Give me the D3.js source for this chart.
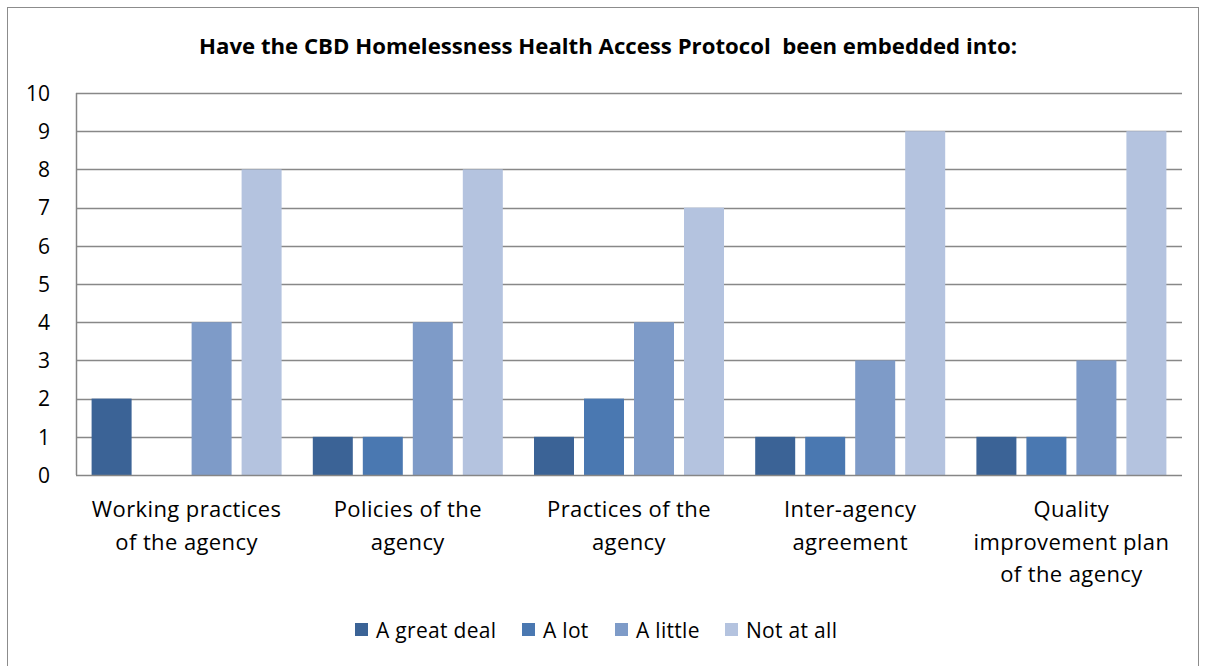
<!DOCTYPE html>
<html><head><meta charset="utf-8">
<script src="https://cdn.jsdelivr.net/npm/d3@7"></script>
<style>
body{margin:0;background:#fff;}
text{font-family:"Open Sans",sans-serif;fill:#000;}
</style></head>
<body><svg id="c" width="1206" height="666"></svg>
<script>
const title = "Have the CBD Homelessness Health Access Protocol  been embedded into:";
const categories = [["Working practices","of the agency"],["Policies of the","agency"],["Practices of the","agency"],["Inter-agency","agreement"],["Quality","improvement plan","of the agency"]];
const seriesNames = ["A great deal","A lot","A little","Not at all"];
const greatDeal = [2,1,1,1,1];
const aLot = [0,1,2,1,1];
const aLittle = [4,4,4,3,3];
const notAtAll = [8,8,7,9,9];
const yTicks = [0,1,2,3,4,5,6,7,8,9,10];
const colors = ["#3B6396","#4A78B1","#7E9BC8","#B4C3DF"];

const series = [greatDeal,aLot,aLittle,notAtAll];
const svg = d3.select("#c");
svg.append("rect").attr("x",7.5).attr("y",7.5).attr("width",1191).attr("height",670)
  .attr("fill","none").attr("stroke","#8c8c8c").attr("stroke-width",1);

const L=76,R=1182,T=93,B=475;
const x0 = d3.scaleBand().domain(d3.range(categories.length)).range([L,R]);
const gw = x0.bandwidth();
const x1 = d3.scaleBand().domain(d3.range(4)).range([15.6, gw-15.6]).paddingInner(0.2);
const y = d3.scaleLinear().domain([0,10]).range([B,T]);

svg.append("text").attr("x",608).attr("y",54).attr("text-anchor","middle")
  .style("font-weight","bold").style("font-size","21px").style("white-space","pre").text(title)
  .attr("textLength",818).attr("lengthAdjust","spacingAndGlyphs");

// grid
svg.append("g").selectAll("line").data(yTicks.filter(d=>d>0)).join("line")
  .attr("x1",L).attr("x2",R).attr("y1",d=>Math.round(y(d))+0.5).attr("y2",d=>Math.round(y(d))+0.5)
  .attr("stroke","#888").attr("stroke-width",1.3);

const yAxis = d3.axisLeft(y).tickValues(yTicks).tickSize(0).tickPadding(0);
const ga = svg.append("g").attr("transform",`translate(50,0)`).call(yAxis);
ga.select(".domain").remove();
ga.selectAll("text").style("font-size","21px").style("font-family","'Open Sans',sans-serif").attr("fill","#000").attr("dy","0.35em");

// bars
const g = svg.append("g");
categories.forEach((c,i)=>{
  series.forEach((s,j)=>{
    if(s[i]>0) g.append("rect").attr("x",x0(i)+x1(j)).attr("width",x1.bandwidth())
      .attr("y",y(s[i])).attr("height",y(0)-y(s[i])).attr("fill",colors[j]);
  });
});

// axis lines
svg.append("line").attr("x1",L+0.5).attr("x2",L+0.5).attr("y1",T).attr("y2",B).attr("stroke","#868686").attr("stroke-width",1.5);
svg.append("line").attr("x1",L).attr("x2",R).attr("y1",B+0.5).attr("y2",B+0.5).attr("stroke","#868686").attr("stroke-width",1.5);

// category labels
categories.forEach((c,i)=>{
  const t = svg.append("text").attr("text-anchor","middle").style("font-size","22px").style("letter-spacing","0.4px");
  c.forEach((line,k)=>{
    t.append("tspan").attr("x",x0(i)+gw/2).attr("y",517+k*32.5).text(line);
  });
});

// legend
const legX = [355,522,615,725];
const lg = svg.append("g");
seriesNames.forEach((n,j)=>{
  lg.append("rect").attr("x",legX[j]).attr("y",623).attr("width",13).attr("height",13).attr("fill",colors[j]);
  lg.append("text").attr("x",legX[j]+21).attr("y",638).style("font-size","21px").style("letter-spacing","0.3px").text(n);
});
</script></body></html>
